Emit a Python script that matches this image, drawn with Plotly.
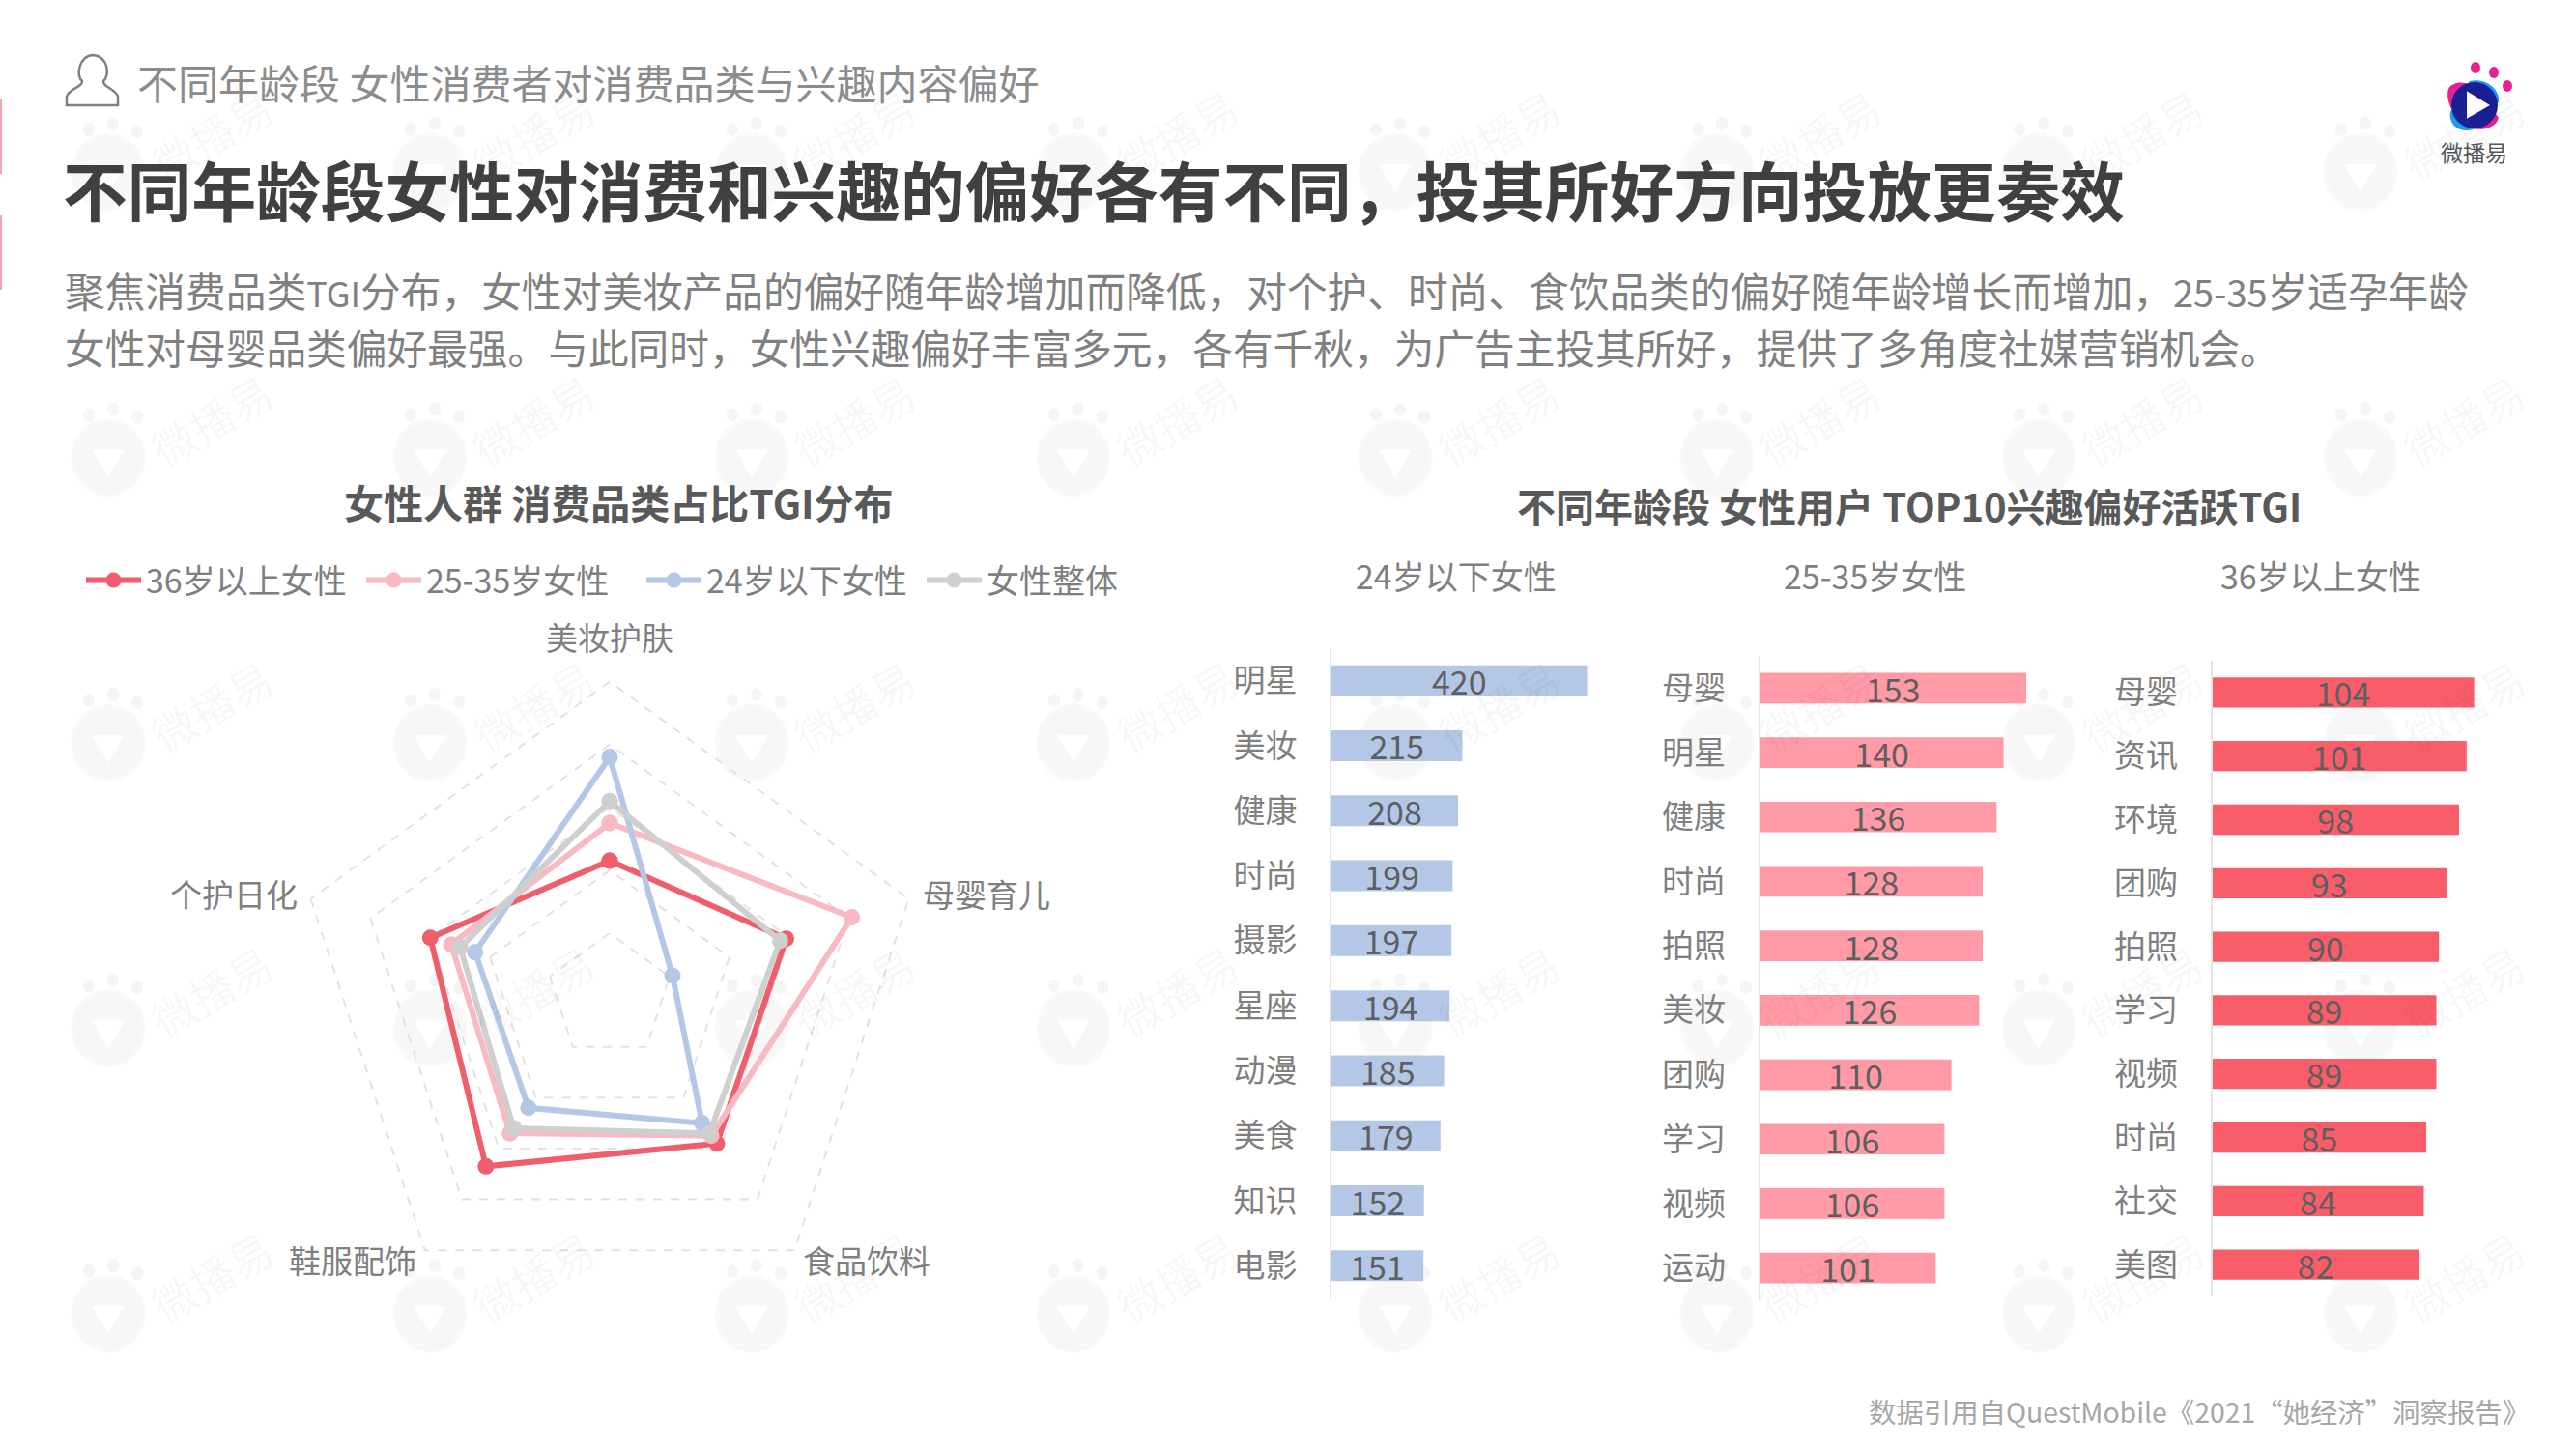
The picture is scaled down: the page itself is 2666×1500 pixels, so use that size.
import plotly.graph_objects as go

FONT = "Noto Sans CJK SC"
W, H = 2666, 1500

# ---- radar data (axis units 0-100)
radar_axes = ["美妆护肤", "母婴育儿", "食品饮料", "鞋服配饰", "个护日化"]
radar_names = ["36岁以上女性", "25-35岁女性", "24岁以下女性", "女性整体"]
radar_red = [43, 59, 58, 67, 60]
radar_pink = [55, 81, 55, 54, 53]
radar_blue = [76, 21, 50, 44, 45]
radar_gray = [62, 57, 54, 52, 50]
radar_colors = ["#ee5f6b", "#f8b9c2", "#b4c7e7", "#cfcfcf"]

# ---- bars
young_cats = ["明星", "美妆", "健康", "时尚", "摄影", "星座", "动漫", "美食", "知识", "电影"]
young_vals = [420, 215, 208, 199, 197, 194, 185, 179, 152, 151]
mid_cats = ["母婴", "明星", "健康", "时尚", "拍照", "美妆", "团购", "学习", "视频", "运动"]
mid_vals = [153, 140, 136, 128, 128, 126, 110, 106, 106, 101]
old_cats = ["母婴", "资讯", "环境", "团购", "拍照", "学习", "视频", "时尚", "社交", "美图"]
old_vals = [104, 101, 98, 93, 90, 89, 89, 85, 84, 82]
bar_colors = ["#b4c7e7", "#ff9aa6", "#f95d6a"]


def fx(x):
    return x / W


def fy(y):
    return 1 - y / H


fig = go.Figure()

# ---- radar traces
for name, vals, col in zip(radar_names, [radar_red, radar_pink, radar_blue, radar_gray], radar_colors):
    fig.add_trace(go.Scatterpolar(
        r=vals + vals[:1], theta=radar_axes + radar_axes[:1], name=name,
        mode="lines+markers", line=dict(color=col, width=6),
        marker=dict(color=col, size=17), subplot="polar", cliponaxis=False,
    ))

# ---- bar panels: (cats, vals, colour, axis left px, px per unit, y top px, y bottom px)
panels = [
    (young_cats, young_vals, bar_colors[0], 1378, 0.63, 671, 1344, ""),
    (mid_cats, mid_vals, bar_colors[1], 1821.6, 1.80, 679, 1346, "2"),
    (old_cats, old_vals, bar_colors[2], 2289.5, 2.607, 684, 1342, "3"),
]
layout_axes = {}
for cats, vals, col, left, ppu, top, bottom, s in panels:
    fig.add_trace(go.Bar(
        y=cats, x=vals, orientation="h", marker=dict(color=col, line=dict(width=0)),
        text=[str(v) for v in vals], textposition="inside", insidetextanchor="middle",
        textangle=0, constraintext="none",
        insidetextfont=dict(family=FONT, size=34, color="#5f5f5f"),
        xaxis="x" + s, yaxis="y" + s, showlegend=False, width=0.475,
    ))
    width_px = 300
    layout_axes["xaxis" + s] = dict(
        domain=[fx(left), fx(left + width_px)], range=[0, width_px / ppu], visible=False,
        anchor="y" + s, fixedrange=True,
    )
    layout_axes["yaxis" + s] = dict(
        domain=[fy(bottom), fy(top)], anchor="x" + s, autorange="reversed", type="category",
        categoryorder="array", categoryarray=cats,
        showline=True, linecolor="#e4e4e4", linewidth=2, showgrid=False, zeroline=False,
        ticks="", ticklabelstandoff=27, tickfont=dict(family=FONT, size=33, color="#7f7f7f"),
        automargin=False,
    )

# ---- decorative shapes
shapes = []


def P(x, y):
    return f"{fx(x):.5f},{fy(y):.5f}"


# watermark tiles
annotations = []
for row in range(5):
    for col in range(8):
        cx = 112 + 333 * col
        cy = 177 + 295.5 * row
        shapes.append(dict(
            type="circle", xref="paper", yref="paper", layer="below",
            x0=fx(cx - 37), x1=fx(cx + 37), y0=fy(cy + 40), y1=fy(cy - 38),
            line=dict(color="#f9f9f9", width=3), fillcolor="#f7f7f7",
        ))
        shapes.append(dict(
            type="path", xref="paper", yref="paper", layer="below",
            path=f"M{P(cx-17,cy-7)} L{P(cx+17,cy-7)} L{P(cx,cy+22)} Z",
            line=dict(width=0), fillcolor="#ffffff",
        ))
        for dx, dy in [(-20, -43), (5, -49), (30, -41)]:
            shapes.append(dict(
                type="circle", xref="paper", yref="paper", layer="below",
                x0=fx(cx + dx - 6), x1=fx(cx + dx + 6), y0=fy(cy + dy + 7), y1=fy(cy + dy - 7),
                line=dict(width=0), fillcolor="#f5f5f5",
            ))
        annotations.append(dict(
            text="微播易", x=fx(cx + 106), y=fy(cy - 38), xref="paper", yref="paper",
            showarrow=False, textangle=-30, font=dict(family=FONT, size=45, color="rgba(0,0,0,0.045)"),
            xanchor="center", yanchor="middle",
        ))

# left edge marks
for y0, y1 in [(103, 180), (223, 300)]:
    shapes.append(dict(type="rect", xref="paper", yref="paper", x0=0, x1=fx(2), y0=fy(y1), y1=fy(y0),
                       line=dict(width=0), fillcolor="#f4a6ae"))

# person icon
shapes.append(dict(
    type="path", xref="paper", yref="paper",
    path=(f"M{P(69,109)} L{P(122,109)} L{P(122,100)} C{P(120,92)} {P(106,90)} {P(107,84)} "
          f"C{P(114,78)} {P(112,58)} {P(96,57)} C{P(82,58)} {P(78,78)} {P(85,84)} "
          f"C{P(86,90)} {P(71,92)} {P(69,100)} Z"),
    line=dict(color="#808080", width=2.5), fillcolor="rgba(0,0,0,0)",
))

# logo
shapes += [
    dict(type="path", xref="paper", yref="paper", line=dict(width=0), fillcolor="#ea1f94",
         path=(f"M{P(2534,92)} C{P(2540,82)} {P(2556,84)} {P(2566,94)} L{P(2586,122)} "
               f"C{P(2582,134)} {P(2566,136)} {P(2556,132)} C{P(2540,124)} {P(2530,104)} {P(2534,92)} Z")),
    dict(type="path", xref="paper", yref="paper", line=dict(width=0), fillcolor="#1e9cf0",
         path=(f"M{P(2556,84)} C{P(2572,80)} {P(2588,92)} {P(2586,106)} L{P(2560,134)} "
               f"C{P(2546,138)} {P(2534,130)} {P(2536,116)} Z")),
    dict(type="circle", xref="paper", yref="paper", line=dict(width=0), fillcolor="#1b1f96",
         x0=fx(2537), x1=fx(2585), y0=fy(133), y1=fy(85)),
    dict(type="path", xref="paper", yref="paper", line=dict(color="#ffffff", width=2), fillcolor="#ffffff",
         path=f"M{P(2554,96)} L{P(2575,109)} L{P(2554,121)} Z"),
]
for ex, ey in [(2562, 70), (2581, 75), (2595, 89)]:
    shapes.append(dict(type="circle", xref="paper", yref="paper", line=dict(width=0), fillcolor="#ea1f94",
                       x0=fx(ex - 5), x1=fx(ex + 5), y0=fy(ey + 6), y1=fy(ey - 6)))


def label(text, x, y, size, color, anchor="left", bold=False):
    annotations.append(dict(
        text=f"<b>{text}</b>" if bold else text, x=fx(x), y=fy(y), xref="paper", yref="paper",
        showarrow=False, xanchor=anchor, yanchor="middle",
        font=dict(family=FONT, size=size, color=color), align=anchor,
    ))


def small(t, s):
    return f'<span style="font-size:{s}px">{t}</span>'


label("不同年龄段 女性消费者对消费品类与兴趣内容偏好", 140, 84, 42, "#8c8c8c")
label("不同年龄段女性对消费和兴趣的偏好各有不同，投其所好方向投放更奏效", 63, 195, 66.7, "#404040", bold=True)
label("聚焦消费品类" + small("TGI", 36) + "分布，女性对美妆产品的偏好随年龄增加而降低，对个护、时尚、食饮品类的偏好随年龄增长而增加，"
      + small("25-35", 38) + "岁适孕年龄", 65, 300, 41.7, "#808080")
label("女性对母婴品类偏好最强。与此同时，女性兴趣偏好丰富多元，各有千秋，为广告主投其所好，提供了多角度社媒营销机会。",
      65, 359, 41.7, "#808080")
label("女性人群 消费品类占比TGI分布", 640, 519, 41, "#595959", "center", True)
label("不同年龄段 女性用户 TOP10兴趣偏好活跃TGI", 1976, 523, 40, "#595959", "center", True)
label("24岁以下女性", 1507, 595, 34, "#7f7f7f", "center")
label("25-35岁女性", 1940, 595, 34, "#7f7f7f", "center")
label("36岁以上女性", 2402, 595, 34, "#7f7f7f", "center")
label("数据引用自QuestMobile《2021“她经济”洞察报告》", 2620, 1460, 28.4, "#a6a6a6", "right")
label("微播易", 2560, 157, 23, "#555555", "center")

# radar category labels
radar_label_pos = [(631, 659), (1021, 925), (897, 1304), (365, 1304), (242, 925)]
for cat, (lx, ly) in zip(radar_axes, radar_label_pos):
    label(cat, lx, ly, 33, "#7f7f7f", "center")

R = 327
fig.update_layout(
    width=W, height=H, margin=dict(l=0, r=0, t=0, b=0), autosize=False,
    paper_bgcolor="#ffffff", plot_bgcolor="rgba(0,0,0,0)",
    font=dict(family=FONT), barmode="overlay",
    polar=dict(
        domain=dict(x=[fx(631 - R), fx(631 + R)], y=[fy(1031 + R), fy(1031 - R)]),
        bgcolor="rgba(0,0,0,0)", gridshape="linear",
        angularaxis=dict(
            rotation=90, direction="clockwise", type="category", categoryorder="array",
            categoryarray=radar_axes, showline=False, showgrid=False, ticks="",
            showticklabels=False,
        ),
        radialaxis=dict(
            range=[0, 100.5], tick0=0, dtick=20, showline=False, showticklabels=False, ticks="",
            gridcolor="#e2e2e2", griddash="dash", gridwidth=2, angle=90,
        ),
    ),
    legend=dict(
        orientation="h", x=fx(84), y=fy(601), xanchor="left", yanchor="middle",
        font=dict(family=FONT, size=34, color="#7f7f7f"), itemwidth=57,
        entrywidth=218, entrywidthmode="pixels",
        bgcolor="rgba(0,0,0,0)", traceorder="normal",
    ),
    shapes=shapes, annotations=annotations,
    **layout_axes,
)

fig.write_html("out.html", config={"displayModeBar": False},
               post_script="document.body.style.margin='0';document.documentElement.style.overflow='hidden';")
